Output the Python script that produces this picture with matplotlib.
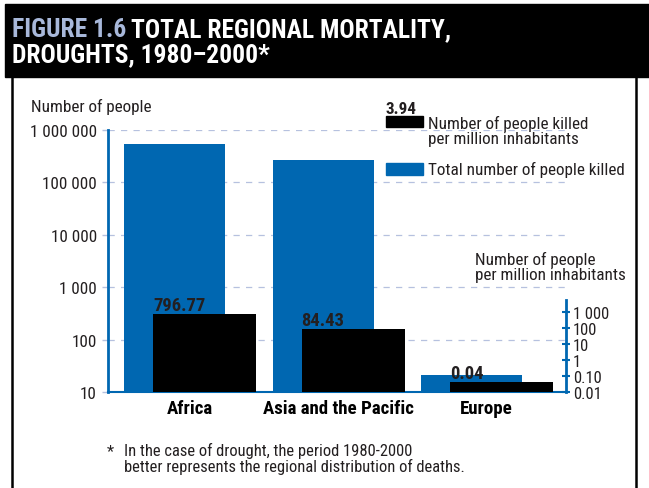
import matplotlib
matplotlib.use('Agg')
import matplotlib.pyplot as plt
from matplotlib import font_manager
from matplotlib.patches import Rectangle
from matplotlib.lines import Line2D
from matplotlib.ticker import FixedLocator, NullLocator

# pick a narrow font if there is one
names = {f.name for f in font_manager.fontManager.ttflist}
if 'Liberation Sans Narrow' in names:
    FONT, K = 'Liberation Sans Narrow', 1.0
elif 'Roboto Condensed' in names:
    FONT, K = 'Roboto Condensed', 0.95
else:
    FONT, K = 'Liberation Sans', 0.82
plt.rcParams['font.family'] = [FONT, 'DejaVu Sans']

#%%
""" data """
regions = ['Africa', 'Asia and the Pacific', 'Europe']
total_killed = [540000, 270000, 21]
per_million = [796.77, 84.43, 0.04]
per_million_world = 3.94

left_ticks = [10, 100, 1000, 10000, 100000, 1000000]
left_labels = ['10', '100', '1 000', '10 000', '100 000', '1 000 000']
right_ticks = [0.01, 0.1, 1, 10, 100, 1000]
right_labels = ['0.01', '0.10', '1', '10', '100', '1 000']

BLUE = '#0067b1'
GRID = '#b6c1df'
TXT = '#231f20'
W, H = 649, 489


def fx(px):
    return px / W


def fy(py):
    return 1 - py / H


#%%
""" plot """
fig = plt.figure(figsize=(W / 100, H / 100), dpi=100, facecolor='w')

# header band and frame
fig.patches.append(Rectangle((fx(5), fy(78)), 1 - fx(5), fy(5) - fy(78),
                             transform=fig.transFigure, color='black', zorder=0))
for xp in (12, 636):
    fig.lines.append(Line2D([fx(xp), fx(xp)], [0, fy(78)], transform=fig.transFigure,
                            color='black', lw=1.8))

TS = 19.3 * K
t1 = fig.text(fx(12), fy(37), 'FIGURE 1.6', color='#a8b8da', fontsize=TS,
              fontweight='bold', va='baseline')
fig.canvas.draw()
bb = t1.get_window_extent(renderer=fig.canvas.get_renderer())
fig.text(bb.x1 / W + fx(5), fy(37), 'TOTAL REGIONAL MORTALITY,', color='white',
         fontsize=TS, fontweight='bold', va='baseline')
fig.text(fx(12), fy(62), 'DROUGHTS, 1980\u20132000*', color='white', fontsize=TS,
         fontweight='bold', va='baseline')

ax = fig.add_axes([fx(108), fy(393), fx(566) - fx(108), fy(131) - fy(393)])

pos = range(len(regions))
ax.bar([p - 0.101 for p in pos], [v - 10 for v in total_killed], width=0.68, bottom=10,
       color=BLUE, zorder=2)
ax.set_yscale('log')
ax.set_ylim(10, 1e6)
ax.set_xlim(-0.549, 2.535)
ax.yaxis.set_major_locator(FixedLocator(left_ticks))
ax.yaxis.set_minor_locator(NullLocator())
ax.set_yticklabels(left_labels)
ax.set_xticks(list(pos))
ax.set_xticklabels(regions, fontweight='bold', fontsize=14.3 * K, color='black')
ax.tick_params(axis='x', length=0, pad=5)
ax.tick_params(axis='y', length=4, color=GRID, width=1, labelsize=13 * K,
               labelcolor=TXT, pad=4)
for lv in left_ticks[1:]:
    ax.axhline(lv, color=GRID, lw=0.9, ls=(0, (5, 5)), zorder=0)
ax.set_axisbelow(True)
for s in ('top', 'right'):
    ax.spines[s].set_visible(False)
ax.spines['left'].set_color(BLUE)
ax.spines['left'].set_linewidth(2)
ax.spines['bottom'].set_color(BLUE)
ax.spines['bottom'].set_linewidth(1.5)

# second scale: people killed per million inhabitants
ax2 = ax.twinx()
ax2.set_yscale('log')
ax2.set_ylim(0.01, 10 ** 14.375)
xb = [p + 0.101 for p in pos]
ax2.bar(xb, [v - 0.01 for v in per_million], width=0.694, bottom=0.01,
        color='black', zorder=3)
for x, v in zip(xb, per_million):
    ax2.annotate(f'{v:.2f}', xy=(x - 0.347, v), xytext=(0, 0), textcoords='offset points',
                 ha='left', va='bottom', fontsize=14 * K, fontweight='bold', color=TXT)
ax2.yaxis.set_major_locator(FixedLocator(right_ticks))
ax2.yaxis.set_minor_locator(NullLocator())
ax2.set_yticklabels(right_labels)
ax2.tick_params(axis='y', direction='inout', length=6, color=BLUE, width=1.5,
                labelsize=12.5 * K, labelcolor=TXT, pad=2)
for s in ('top', 'left', 'bottom'):
    ax2.spines[s].set_visible(False)
ax2.spines['right'].set_color(BLUE)
ax2.spines['right'].set_linewidth(2)
ax2.spines['right'].set_bounds(0.01, 10 ** 3.75)

# axis titles
fig.text(fx(31), fy(107), 'Number of people', fontsize=13 * K, color=TXT, va='center')
fig.text(fx(475), fy(267), 'Number of people\nper million inhabitants', fontsize=13 * K,
         color=TXT, va='center', linespacing=1.0)

# legend
fig.patches.append(Rectangle((fx(386), fy(128)), fx(423) - fx(386), fy(117) - fy(128),
                             transform=fig.transFigure, color='black'))
fig.text(fx(386), fy(117), f'{per_million_world:.2f}', fontsize=13 * K, fontweight='bold',
         color=TXT, va='bottom')
fig.text(fx(428), fy(131), 'Number of people killed\nper million inhabitants',
         fontsize=13 * K, color=TXT, va='center', linespacing=1.0)
fig.patches.append(Rectangle((fx(386), fy(176)), fx(423) - fx(386), fy(164) - fy(176),
                             transform=fig.transFigure, color=BLUE))
fig.text(fx(428), fy(170), 'Total number of people killed', fontsize=13 * K,
         color=TXT, va='center')

# footnote
fig.text(fx(107), fy(452), '*', fontsize=12.5 * K, color=TXT, va='center')
fig.text(fx(124), fy(459), 'In the case of drought, the period 1980-2000\n'
         'better represents the regional distribution of deaths.',
         fontsize=12.5 * K, color=TXT, va='center', linespacing=1.0)

fig.savefig('out.png', dpi=100, facecolor='w')
